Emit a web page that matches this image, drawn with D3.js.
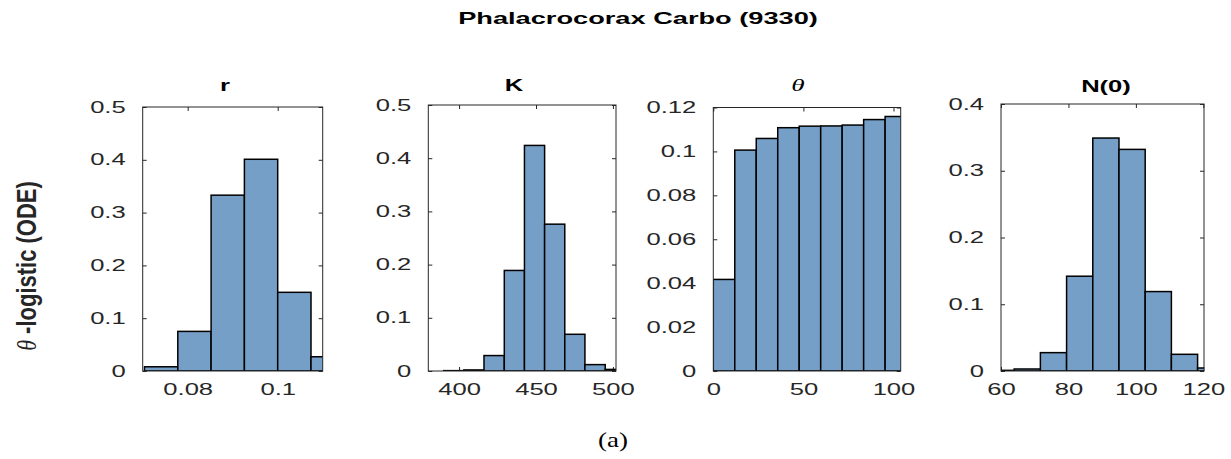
<!DOCTYPE html>
<html><head><meta charset="utf-8">
<script src="https://cdn.jsdelivr.net/npm/d3@7"></script>
<style>body{margin:0;background:#fff}svg{display:block}</style>
</head><body>
<script>
// ---------- data ----------
const mainTitle = "Phalacrocorax Carbo (9330)";
const yLabelSymbol = "θ";
const yLabelRest = " -logistic (ODE)";
const caption = "(a)";
const panelTitles = ["r", "K", "θ", "N(0)"];

const rEdges = [0.0704, 0.0778, 0.0852, 0.0926, 0.1000, 0.1074, 0.1148];
const rValues = [0.008, 0.075, 0.333, 0.401, 0.149, 0.027];
const rXTicks = [0.08, 0.1];
const rXTickLabels = ["0.08", "0.1"];
const rYTicks = [0, 0.1, 0.2, 0.3, 0.4, 0.5];
const rYTickLabels = ["0", "0.1", "0.2", "0.3", "0.4", "0.5"];

const kEdges = [390.0, 403.1, 416.2, 429.4, 442.5, 455.6, 468.7, 481.8, 495.0, 508.1];
const kValues = [0.0007, 0.002, 0.029, 0.189, 0.424, 0.276, 0.069, 0.012, 0.003];
const kXTicks = [400, 450, 500];
const kXTickLabels = ["400", "450", "500"];
const kYTicks = [0, 0.1, 0.2, 0.3, 0.4, 0.5];
const kYTickLabels = ["0", "0.1", "0.2", "0.3", "0.4", "0.5"];

const thetaEdges = [0, 11.92, 23.84, 35.76, 47.68, 59.6, 71.52, 83.44, 95.36, 107.28];
const thetaValues = [0.0417, 0.1006, 0.1059, 0.1108, 0.1115, 0.1116, 0.1120, 0.1145, 0.1159];
const thetaXTicks = [0, 50, 100];
const thetaXTickLabels = ["0", "50", "100"];
const thetaYTicks = [0, 0.02, 0.04, 0.06, 0.08, 0.1, 0.12];
const thetaYTickLabels = ["0", "0.02", "0.04", "0.06", "0.08", "0.1", "0.12"];

const n0Edges = [56.14, 63.91, 71.68, 79.45, 87.22, 94.99, 102.76, 110.53, 118.3, 126.07];
const n0Values = [0.001, 0.003, 0.0275, 0.142, 0.349, 0.332, 0.119, 0.025, 0.0045];
const n0XTicks = [60, 80, 100, 120];
const n0XTickLabels = ["60", "80", "100", "120"];
const n0YTicks = [0, 0.1, 0.2, 0.3, 0.4];
const n0YTickLabels = ["0", "0.1", "0.2", "0.3", "0.4"];

// ---------- layout / style ----------
const W = 1231, H = 459;
const SX = 1.6;               // horizontal stretch of the reference text
const tickColor = "#262626";
const barFill = "#769fc7";
const sans = "'Liberation Sans', Arial, Helvetica, sans-serif";
const serif = "'Liberation Serif', 'DejaVu Serif', serif";

const panels = [
  {edges: rEdges, values: rValues, xt: rXTicks, xl: rXTickLabels, yt: rYTicks, yl: rYTickLabels,
   left: 142.7, right: 322.7, top: 107, bottom: 371, xd: [0.07, 0.11], yd: [0, 0.5], tx: 225, ty: 91, tStyle: "bold"},
  {edges: kEdges, values: kValues, xt: kXTicks, xl: kXTickLabels, yt: kYTicks, yl: kYTickLabels,
   left: 428.3, right: 616, top: 105, bottom: 371, xd: [380, 502], yd: [0, 0.5], tx: 514, ty: 91, tStyle: "bold"},
  {edges: thetaEdges, values: thetaValues, xt: thetaXTicks, xl: thetaXTickLabels, yt: thetaYTicks, yl: thetaYTickLabels,
   left: 713.3, right: 900.7, top: 107.5, bottom: 371, xd: [0, 104], yd: [0, 0.12], tx: 798, ty: 91, tStyle: "italic"},
  {edges: n0Edges, values: n0Values, xt: n0XTicks, xl: n0XTickLabels, yt: n0YTicks, yl: n0YTickLabels,
   left: 1001, right: 1204, top: 104, bottom: 371, xd: [60, 120.2], yd: [0, 0.4], tx: 1106, ty: 92, tStyle: "bold"}
];

const svg = d3.select("body").append("svg").attr("width", W).attr("height", H)
  .style("font-family", sans);

// main title
svg.append("text").attr("transform", `translate(638,24) scale(${SX},1)`)
  .attr("text-anchor", "middle").attr("font-size", 17).attr("font-weight", "bold")
  .attr("fill", "#000").text(mainTitle);

// y label
const yl = svg.append("text").attr("transform", `translate(36,266) scale(1.25,1) rotate(-90)`)
  .attr("text-anchor", "middle").attr("font-size", 22).attr("fill", "#262626");
yl.append("tspan").attr("font-family", serif).attr("font-style", "italic").text(yLabelSymbol);
yl.append("tspan").attr("font-weight", "bold").text(yLabelRest);

// caption
svg.append("text").attr("transform", `translate(613,447) scale(1.35,1)`)
  .attr("text-anchor", "middle").attr("font-size", 20).attr("font-family", serif)
  .attr("fill", "#000").text(caption);

panels.forEach((p, i) => {
  const x = d3.scaleLinear().domain(p.xd).range([p.left, p.right]);
  const y = d3.scaleLinear().domain(p.yd).range([p.bottom, p.top]);
  const g = svg.append("g");
  const clipId = "clip" + i;
  g.append("clipPath").attr("id", clipId).append("rect")
    .attr("x", p.left).attr("y", p.top).attr("width", p.right - p.left).attr("height", p.bottom - p.top);

  // axes (ticks inward, drawn under bars)
  const fmtX = d => p.xl[p.xt.indexOf(d)];
  const fmtY = d => p.yl[p.yt.indexOf(d)];
  const gx = g.append("g").attr("transform", `translate(0,${p.bottom})`)
    .call(d3.axisBottom(x).tickValues(p.xt).tickFormat(fmtX).tickSizeInner(-4).tickSizeOuter(0).tickPadding(13));
  const gxt = g.append("g").attr("transform", `translate(0,${p.top})`)
    .call(d3.axisTop(x).tickValues(p.xt).tickFormat("").tickSizeInner(-4).tickSizeOuter(0));
  const gy = g.append("g").attr("transform", `translate(${p.left},0)`)
    .call(d3.axisLeft(y).tickValues(p.yt).tickFormat(fmtY).tickSizeInner(-4).tickSizeOuter(0).tickPadding(17 / SX));
  const gyr = g.append("g").attr("transform", `translate(${p.right},0)`)
    .call(d3.axisRight(y).tickValues(p.yt).tickFormat("").tickSizeInner(-4).tickSizeOuter(0));
  [gx, gxt, gy, gyr].forEach(a => {
    a.select(".domain").remove();
    a.selectAll(".tick line").attr("stroke", tickColor).attr("stroke-width", 1);
    a.selectAll(".tick text").attr("font-size", 16).attr("font-family", sans).attr("fill", tickColor)
      .attr("transform", `scale(${SX},1)`);
  });

  // bars
  const bins = p.values.map((v, j) => ({x0: p.edges[j], x1: p.edges[j + 1], v}));
  g.append("g").attr("clip-path", `url(#${clipId})`)
    .selectAll("rect").data(bins).join("rect")
    .attr("x", d => x(d.x0)).attr("width", d => x(d.x1) - x(d.x0))
    .attr("y", d => y(d.v)).attr("height", d => y(0) - y(d.v))
    .attr("fill", barFill).attr("stroke", "#000").attr("stroke-width", 1.5);

  // box
  g.append("rect").attr("x", p.left).attr("y", p.top)
    .attr("width", p.right - p.left).attr("height", p.bottom - p.top)
    .attr("fill", "none").attr("stroke", tickColor).attr("stroke-width", 1);

  // panel title
  const t = g.append("text").attr("transform", `translate(${p.tx},${p.ty}) scale(${SX},1)`)
    .attr("text-anchor", "middle").attr("font-size", 16).attr("fill", "#000").text(panelTitles[i]);
  if (p.tStyle === "italic") t.attr("font-family", serif).attr("font-style", "italic").attr("font-size", 17);
  else t.attr("font-weight", "bold");
});
</script>
</body></html>
